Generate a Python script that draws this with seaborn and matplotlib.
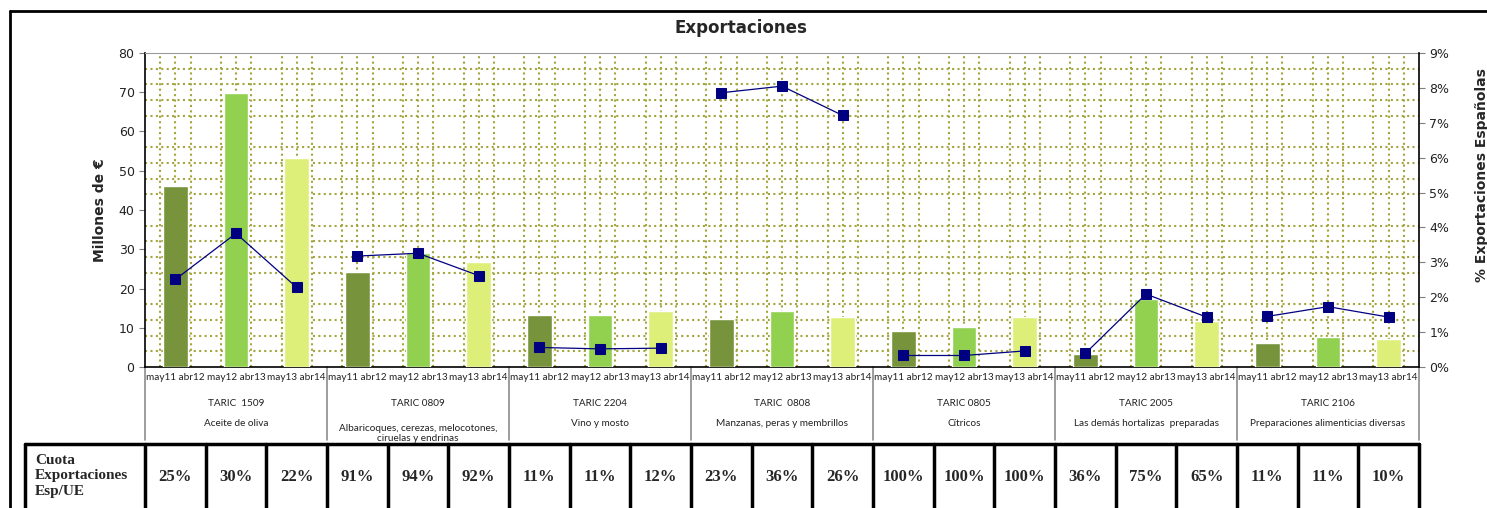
import numpy as np
import pandas as pd
import matplotlib
matplotlib.use("Agg")
import matplotlib.pyplot as plt
import matplotlib.transforms as mtransforms
from matplotlib.lines import Line2D
import seaborn as sns

# datos
periodos = ["may11 abr12", "may12 abr13", "may13 abr14"]
taric = ["TARIC  1509", "TARIC 0809", "TARIC 2204", "TARIC  0808",
         "TARIC 0805", "TARIC 2005", "TARIC 2106"]
productos = ["Aceite de oliva", "Albaricoques, cerezas, melocotones,\nciruelas y endrinas",
             "Vino y mosto", "Manzanas, peras y membrillos", "Cítricos",
             "Las demás hortalizas  preparadas", "Preparaciones alimenticias diversas"]
millones = [46.0, 69.8, 53.2,
            24.2, 29.0, 26.8,
            13.2, 13.2, 14.3,
            12.2, 14.3, 12.7,
            9.2, 10.2, 12.8,
            3.3, 17.2, 11.8,
            6.1, 7.6, 7.1]
pct_esp = [2.51, 3.83, 2.28,
           3.18, 3.26, 2.62,
           0.56, 0.52, 0.54,
           7.86, 8.05, 7.21,
           0.33, 0.33, 0.46,
           0.39, 2.09, 1.43,
           1.45, 1.73, 1.43]
cuota_ue = ["25%", "30%", "22%", "91%", "94%", "92%", "11%", "11%", "12%",
            "23%", "36%", "26%", "100%", "100%", "100%", "36%", "75%", "65%",
            "11%", "11%", "10%"]

n = len(millones)
df = pd.DataFrame({
    "pos": np.arange(n),
    "periodo": periodos * len(taric),
    "grupo": np.repeat(np.arange(len(taric)), 3),
    "millones": millones,
    "pct": pct_esp,
})

sns.set_style("white")
plt.rcParams["font.family"] = ["DejaVu Sans"]

W, H = 1487, 508
fig = plt.figure(figsize=(W / 100, H / 100), dpi=100)
L, R, T, B = 145, 1419, 53, 367
ax = fig.add_axes([L / W, 1 - B / H, (R - L) / W, (B - T) / H])

colores = {"may11 abr12": "#77933C", "may12 abr13": "#92D050", "may13 abr14": "#DDEF78"}
sns.barplot(data=df, x="pos", y="millones", hue="periodo", dodge=False,
            palette=colores, saturation=1, width=0.41, ax=ax, legend=False, zorder=3)

# eje derecho con la cuota de exportaciones españolas
ax2 = ax.twinx()
sns.lineplot(data=df, x="pos", y="pct", units="grupo", estimator=None,
             color="#000080", linewidth=0.9, marker="s", markersize=7,
             markeredgecolor="#000080", ax=ax2, zorder=5)

ax.set_xlim(-0.5, n - 0.5)
ax.set_ylim(0, 80)
ax.set_yticks(np.arange(0, 81, 10))
ax.set_yticklabels([str(v) for v in range(0, 81, 10)], fontsize=9, color="#222222")
ax.set_xticks(np.arange(-0.5, n, 1))
ax.set_xticklabels([])
ax.tick_params(axis="x", length=11, color="#7f7f7f", width=0.8)
ax.tick_params(axis="y", length=4, color="#7f7f7f", width=0.8, left=True)

# rejilla punteada
ax.set_xticks(np.arange(-0.5, n, 0.25), minor=True)
ax.set_yticks(np.arange(0, 81, 4), minor=True)
ax.tick_params(which="minor", length=0)
ax.grid(which="minor", color="#a5a540", linestyle=(0, (1, 1.6)), linewidth=1.5, zorder=0)
ax.grid(which="major", visible=False)
ax.set_axisbelow(True)

for s in ["left", "bottom"]:
    ax.spines[s].set_color("black")
    ax.spines[s].set_linewidth(1.2)
ax.spines["top"].set_color("#9a9a9a")
ax.spines["right"].set_visible(False)
ax.set_xlabel("")
ax.set_ylabel("Millones de €", fontsize=10, fontweight="bold", labelpad=8)

ax2.set_ylim(0, 9)
ax2.set_yticks(np.arange(0, 10, 1))
ax2.set_yticklabels([f"{v}%" for v in range(10)], fontsize=9, color="#222222")
ax2.tick_params(axis="y", length=4, color="#7f7f7f", width=0.8, right=True)
ax2.spines["right"].set_color("black")
ax2.spines["right"].set_linewidth(1.2)
for s in ["top", "left", "bottom"]:
    ax2.spines[s].set_visible(False)
ax2.set_xlabel("")
ax2.set_ylabel("")
ax2.grid(False)
ax.set_xlim(-0.5, n - 0.5)

fig.text(1482 / W, 1 - 175 / H, "% Exportaciones Españolas", rotation=90,
         fontsize=10, fontweight="bold", ha="center", va="center")
fig.text(741 / W, 1 - 28 / H, "Exportaciones", fontsize=12, fontweight="bold",
         ha="center", va="center")

# etiquetas del eje de categorías
trans = mtransforms.blended_transform_factory(ax.transData, fig.transFigure)
for i in range(n):
    ax.text(i, 1 - 378 / H, periodos[i % 3], transform=trans, ha="center",
            va="center", fontsize=7.2, family="Lato", color="#222222")
for g in range(len(taric)):
    c = g * 3 + 1
    ax.text(c, 1 - 403 / H, taric[g], transform=trans, ha="center", va="center",
            fontsize=7.2, family="Lato", color="#222222")
    ax.text(c, 1 - 424 / H, productos[g], transform=trans, ha="center",
            va="top" if "\n" in productos[g] else "center",
            fontsize=7.2, family="Lato", color="#222222", linespacing=1.1)
for g in range(len(taric) + 1):
    xb = g * 3 - 0.5
    ax.add_line(Line2D([xb, xb], [1 - 367 / H, 1 - 440 / H], transform=trans,
                       color="#8c8c8c", linewidth=1.2, clip_on=False))

# tabla de cuota Esp/UE
tb_top = 1 - 444 / H
x_izq = -0.5 - 120 / ((R - L) / n)
ax.add_line(Line2D([x_izq, n - 0.5], [tb_top, tb_top],
                   transform=trans, color="black", linewidth=2.5, clip_on=False))
ax.add_line(Line2D([x_izq] * 2, [tb_top, -0.1],
                   transform=trans, color="black", linewidth=2.5, clip_on=False))
for k in range(n + 1):
    xb = k - 0.5
    ax.add_line(Line2D([xb, xb], [tb_top, -0.1], transform=trans,
                       color="black", linewidth=2.5, clip_on=False))
for i in range(n):
    ax.text(i, 1 - 477 / H, cuota_ue[i], transform=trans, ha="center", va="center",
            fontsize=12, fontweight="bold", family="Liberation Serif")
fig.text(35 / W, 1 - 476 / H, "Cuota\nExportaciones\nEsp/UE", ha="left", va="center",
         fontsize=11, fontweight="bold", family="Liberation Serif", linespacing=1.2)

# marco exterior
fig.add_artist(Line2D([10 / W, 1.01], [1 - 11 / H] * 2, color="black", linewidth=2))
fig.add_artist(Line2D([10 / W] * 2, [1 - 11 / H, -0.01], color="black", linewidth=2))

fig.savefig("out.png", dpi=100)
